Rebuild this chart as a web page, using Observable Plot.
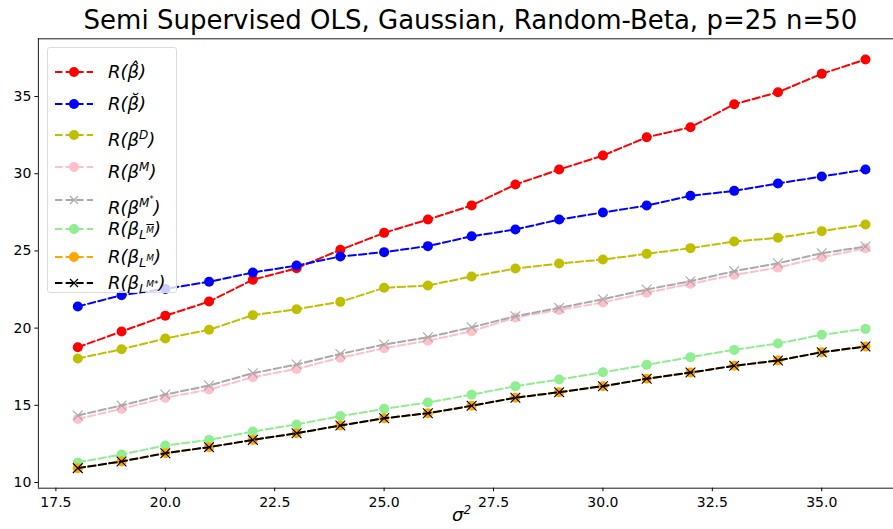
<!DOCTYPE html>
<html>
<head>
<meta charset="utf-8">
<script src="https://cdn.jsdelivr.net/npm/d3@7"></script>
<script src="https://cdn.jsdelivr.net/npm/@observablehq/plot@0.6"></script>
<style>
  html, body { margin: 0; padding: 0; background: #fff; }
  #wrap { position: relative; width: 893px; height: 529px; overflow: hidden; font-family: "DejaVu Sans", sans-serif; }
  #title { position: absolute; top: 5px; left: 0; width: 941px; text-align: center; font-size: 26px; color: #000; white-space: nowrap; }
  #chart { position: absolute; top: 36px; left: 0; }
  #xlabel { position: absolute; top: 503px; left: 452px; font-size: 18px; font-style: italic; }
  #legend { position: absolute; left: 47px; top: 47px; width: 130px; height: 246px; border: 1px solid #dcdcdc; border-radius: 3px; background: rgba(255,255,255,0.8); box-sizing: border-box; }
  .row { position: absolute; left: 0; height: 24px; width: 128px; }
  .row svg { position: absolute; left: 6px; top: 0; }
  .row .lab { position: absolute; left: 60px; top: 0px; font-size: 18px; font-style: italic; white-space: nowrap; line-height: 24px; }
  .lab sup { font-size: 12px; vertical-align: 7px; }
  .lab sub { font-size: 13px; vertical-align: -4px; }
  .lab sub sup { font-size: 9px; vertical-align: 6px; }
</style>
</head>
<body>
<div id="wrap">
  <div id="title">Semi Supervised OLS, Gaussian, Random-Beta, p=25 n=50</div>
  <div id="chart"></div>
  <div id="xlabel">σ<sup style="font-size:12px">2</sup></div>
  <div id="legend"></div>
</div>
<script>
const sigma2 = [18,19,20,21,22,23,24,25,26,27,28,29,30,31,32,33,34,35,36];

const rHat    = [18.76,19.78,20.80,21.72,23.13,23.88,25.07,26.17,27.03,27.95,29.30,30.27,31.18,32.36,33.01,34.50,35.28,36.47,37.40];
const rBreve  = [21.40,22.13,22.54,23.00,23.60,24.05,24.64,24.92,25.31,25.95,26.39,27.03,27.49,27.94,28.57,28.89,29.37,29.82,30.27];
const rD      = [18.03,18.63,19.33,19.89,20.84,21.22,21.70,22.61,22.76,23.34,23.86,24.18,24.44,24.81,25.18,25.61,25.85,26.28,26.71];
const rM      = [14.12,14.77,15.49,16.02,16.82,17.36,18.08,18.70,19.18,19.80,20.69,21.18,21.66,22.29,22.87,23.45,23.92,24.59,25.18];
const rMstar  = [14.34,14.99,15.70,16.28,17.08,17.64,18.33,18.94,19.41,20.05,20.77,21.31,21.87,22.50,23.04,23.69,24.20,24.85,25.28];
const rLMbar  = [11.30,11.81,12.40,12.76,13.30,13.76,14.30,14.77,15.18,15.69,16.24,16.67,17.14,17.62,18.12,18.59,19.00,19.57,19.95];
const rLM     = [10.93,11.36,11.90,12.29,12.76,13.19,13.69,14.16,14.49,14.97,15.49,15.85,16.24,16.72,17.12,17.56,17.90,18.44,18.81];
const rLMstar = [10.93,11.36,11.90,12.29,12.76,13.19,13.69,14.16,14.49,14.97,15.49,15.85,16.24,16.72,17.12,17.56,17.90,18.44,18.81];

const xTicks = [17.5,20.0,22.5,25.0,27.5,30.0,32.5,35.0];
const yTicks = [10,15,20,25,30,35];

const seriesNames = ["hat","breve","D","M","Mstar","LMbar","LM","LMstar"];
const seriesValues = [rHat,rBreve,rD,rM,rMstar,rLMbar,rLM,rLMstar];
const seriesColors = ["#ff0000","#0000ff","#bfbf00","#ffc0cb","#a9a9a9","#90ee90","#ffa500","#000000"];
const seriesMarkers = ["o","o","o","o","x","o","o","x"];
const seriesLabels = [
  'R(β̂)',
  'R(β̆)',
  'R(β<sup>D</sup>)',
  'R(β<sup>M</sup>)',
  'R(β<sup>M<span style="font-size:8px;vertical-align:5px">*</span></sup>)',
  'R(β<sub>L<sup style="text-decoration:overline">M</sup></sub>)',
  'R(β<sub>L<sup>M</sup></sub>)',
  'R(β<sub>L<sup>M*</sup></sub>)'
];

const dash = "7.4,3.2";
const xDomain = [17.1, 36.64];
const yDomain = [9.63, 38.74];

const marks = [];
seriesNames.forEach((name, i) => {
  const data = sigma2.map((x, j) => ({x, y: seriesValues[i][j]}));
  marks.push(Plot.line(data, {x: "x", y: "y", stroke: seriesColors[i], strokeWidth: 2, strokeDasharray: dash}));
  if (seriesMarkers[i] === "o") {
    marks.push(Plot.dot(data, {x: "x", y: "y", r: 5, fill: seriesColors[i], stroke: "none"}));
  } else {
    marks.push(Plot.dot(data, {x: "x", y: "y", r: 4.5, symbol: "times", stroke: seriesColors[i], strokeWidth: 1.1}));
  }
});
marks.push(Plot.ruleX([xDomain[0]], {stroke: "#000", strokeWidth: 0.9}));
marks.push(Plot.ruleY([yDomain[0]], {stroke: "#000", strokeWidth: 0.9}));
marks.push(Plot.ruleY([yDomain[1]], {stroke: "#000", strokeWidth: 0.9}));
marks.push(Plot.axisX(xTicks, {tickSize: 3.5, tickPadding: 5, tickFormat: d3.format(".1f"), fontSize: 14, stroke: "#000", fill: "#000"}));
marks.push(Plot.axisY(yTicks, {tickSize: 3.5, tickPadding: 3.5, fontSize: 14, stroke: "#000", fill: "#000"}));

const chart = Plot.plot({
  width: 893,
  height: 493,
  marginTop: 2.3,
  marginBottom: 41.3,
  marginLeft: 37.9,
  marginRight: 0,
  x: {domain: xDomain, label: null},
  y: {domain: yDomain, label: null},
  style: {fontFamily: "DejaVu Sans, sans-serif", fontSize: "14px", background: "transparent", overflow: "visible"},
  marks
});
document.getElementById("chart").appendChild(chart);

// Legend
const legend = document.getElementById("legend");
const rowCenters = [23.7, 56.3, 87.3, 119, 152, 180.7, 209, 235];
seriesNames.forEach((name, i) => {
  const row = document.createElement("div");
  row.className = "row";
  row.style.top = (rowCenters[i] - 12) + "px";
  const c = seriesColors[i];
  let marker = seriesMarkers[i] === "o"
    ? `<circle cx="20" cy="12" r="5" fill="${c}"/>`
    : `<path d="M16,8L24,16M16,16L24,8" stroke="${c}" stroke-width="1.2"/>`;
  row.innerHTML = `<svg width="40" height="24"><line x1="1" y1="12" x2="39" y2="12" stroke="${c}" stroke-width="2" stroke-dasharray="${dash}"/>${marker}</svg><span class="lab">${seriesLabels[i]}</span>`;
  legend.appendChild(row);
});
</script>
</body>
</html>
